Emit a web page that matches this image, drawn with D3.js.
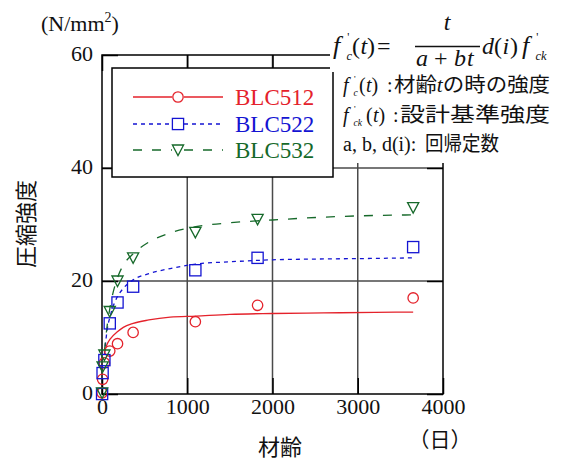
<!DOCTYPE html>
<html>
<head>
<meta charset="utf-8">
<script src="https://cdn.jsdelivr.net/npm/d3@7"></script>
<style>
  html, body { margin: 0; padding: 0; background: #fff; }
  svg { display: block; }
</style>
</head>
<body>
<svg id="chart" width="566" height="461"></svg>
<script>
// Measured ages (days) and compressive strengths (N/mm2)
const ages = [1, 7, 28, 91, 182, 365, 1095, 1825, 3650];
const blc512 = [0.2, 2.6, 5.5, 7.6, 8.9, 10.9, 12.8, 15.7, 17.0];
const blc522 = [0.0, 3.7, 6.0, 12.5, 16.2, 19.0, 21.9, 24.1, 26.0];
const blc532 = [0.2, 4.8, 6.9, 14.6, 20.0, 24.1, 28.6, 30.9, 33.0];

// Regression curves f'c(t) = t/(a+bt) d(i) f'ck, sampled along the age axis
const fitAges = [28, 60, 100, 180, 250, 365, 550, 800, 1100, 1500, 2000, 2600, 3200, 3650];
const fit512 = [7.4, 8.8, 9.8, 11.0, 11.8, 12.5, 13.1, 13.6, 13.8, 14.1, 14.25, 14.35, 14.45, 14.5];
const fit522 = [7.0, 11.3, 14.0, 17.2, 18.7, 20.2, 21.3, 22.2, 23.0, 23.4, 23.75, 23.9, 24.0, 24.1];
const fit532 = [7.5, 12.0, 15.8, 20.5, 22.8, 24.8, 26.9, 28.5, 29.6, 30.3, 30.8, 31.3, 31.6, 31.7];

const seriesNames = ["BLC512", "BLC522", "BLC532"];
const xTicks = [0, 1000, 2000, 3000, 4000];
const yTicks = [0, 20, 40, 60];
const xGrid = [1000, 2000, 3000];
const yGrid = [20, 40];

const SERIF = '"Liberation Serif", "Times New Roman", serif';
const JP = '"Noto Sans CJK JP", "Noto Sans", sans-serif';

const colors = { BLC512: "#e4222b", BLC522: "#1414d2", BLC532: "#16692a" };
const dashes = { BLC512: null, BLC522: "4,4", BLC532: "9,10" };
const shapes = { BLC512: "circle", BLC522: "square", BLC532: "triangle" };

const series = [
  { name: "BLC512", values: blc512, fit: fit512 },
  { name: "BLC522", values: blc522, fit: fit522 },
  { name: "BLC532", values: blc532, fit: fit532 }
];

const svg = d3.select("#chart");
const x = d3.scaleLinear().domain([0, 4000]).range([102, 443]);
const y = d3.scaleLinear().domain([0, 60]).range([394, 55]);
const [x0, x1] = x.range();
const [y0, y1] = y.range();

// grid
const grid = svg.append("g").attr("stroke", "#4a4a4a").attr("stroke-width", 1.5);
grid.selectAll("line.v").data(xGrid).join("line")
  .attr("x1", d => x(d)).attr("x2", d => x(d)).attr("y1", y1).attr("y2", y0);
grid.selectAll("line.h").data(yGrid).join("line")
  .attr("x1", x0).attr("x2", x1).attr("y1", d => y(d)).attr("y2", d => y(d));

// axes with inward ticks
function styleAxis(g) {
  g.attr("font-family", SERIF).attr("font-size", 22);
  g.select(".domain").remove();
  g.selectAll(".tick line").attr("stroke", "#000").attr("stroke-width", 1.5);
  g.selectAll(".tick text").attr("font-family", SERIF).attr("font-size", 22).attr("fill", "#111");
}
svg.append("g").attr("transform", `translate(0,${y0})`)
  .call(d3.axisBottom(x).tickValues(xTicks).tickFormat(d3.format("d")).tickSizeInner(-16).tickSizeOuter(0).tickPadding(4))
  .call(styleAxis);
svg.append("g").attr("transform", `translate(${x0},0)`)
  .call(d3.axisLeft(y).tickValues(yTicks).tickFormat(d3.format("d")).tickSizeInner(-16).tickSizeOuter(0).tickPadding(9))
  .call(styleAxis)
  .call(g => g.selectAll(".tick text").attr("dy", "0.24em"));
svg.append("g").attr("transform", `translate(0,${y1})`)
  .call(d3.axisTop(x).tickValues(xTicks).tickFormat("").tickSizeInner(-16).tickSizeOuter(0))
  .call(styleAxis);
svg.append("g").attr("transform", `translate(${x1},0)`)
  .call(d3.axisRight(y).tickValues(yTicks).tickFormat("").tickSizeInner(-16).tickSizeOuter(0))
  .call(styleAxis);

// frame
svg.append("rect").attr("x", x0).attr("y", y1).attr("width", x1 - x0).attr("height", y0 - y1)
  .attr("fill", "none").attr("stroke", "#000").attr("stroke-width", 1.5);

// fitted curves
const line = d3.line().x(d => x(d[0])).y(d => y(d[1])).curve(d3.curveMonotoneX);
svg.append("g").selectAll("path").data(series).join("path")
  .attr("d", s => line(fitAges.map((t, i) => [t, s.fit[i]])))
  .attr("fill", "none")
  .attr("stroke", s => colors[s.name])
  .attr("stroke-width", 1.3)
  .attr("stroke-dasharray", s => dashes[s.name]);

// markers
function marker(sel, shape, color) {
  if (shape === "circle") {
    sel.append("circle").attr("r", 5.2);
  } else if (shape === "square") {
    sel.append("rect").attr("x", -5.6).attr("y", -5.6).attr("width", 11.2).attr("height", 11.2);
  } else {
    sel.append("path").attr("d", "M-5.6,-5L5.6,-5L0,5.5Z");
  }
  sel.selectAll("*").attr("fill", "none").attr("stroke", color).attr("stroke-width", 1.3);
}
series.forEach(s => {
  const g = svg.append("g");
  ages.forEach((t, i) => {
    const m = g.append("g").attr("transform", `translate(${x(t)},${y(s.values[i])})`);
    marker(m, shapes[s.name], colors[s.name]);
  });
});

// legend
const legend = svg.append("g");
legend.append("rect").attr("x", 112).attr("y", 68).attr("width", 221).attr("height", 109)
  .attr("fill", "#fff").attr("stroke", "#000").attr("stroke-width", 1.5);
const legendRows = [97, 124, 150];
seriesNames.forEach((name, i) => {
  const ly = legendRows[i];
  const g = legend.append("g");
  [[133, 172], [184, 223]].forEach(([a, b]) => {
    g.append("line").attr("x1", a).attr("x2", b).attr("y1", ly).attr("y2", ly)
      .attr("stroke", colors[name]).attr("stroke-width", 1.3)
      .attr("stroke-dasharray", dashes[name]);
  });
  const m = g.append("g").attr("transform", `translate(178,${ly})`);
  marker(m, shapes[name], colors[name]);
  g.append("text").attr("font-family", SERIF).attr("x", 235).attr("y", ly + 8)
    .attr("font-size", 23).attr("fill", colors[name]).text(name);
});

// axis titles
const unit = svg.append("text").attr("font-family", SERIF).attr("x", 41).attr("y", 31)
  .attr("font-size", 22).attr("fill", "#111");
unit.append("tspan").text("(N/mm");
unit.append("tspan").attr("font-size", 14).attr("dy", -9).text("2");
unit.append("tspan").attr("dy", 9).text(")");

svg.append("text").attr("font-family", JP)
  .attr("transform", "translate(34,224) rotate(-90)")
  .attr("text-anchor", "middle").attr("font-size", 22).attr("fill", "#111")
  .text("圧縮強度");

svg.append("text").attr("font-family", JP).attr("x", 280).attr("y", 455)
  .attr("text-anchor", "middle").attr("font-size", 22).attr("fill", "#111").text("材齢");
svg.append("text").attr("font-family", JP).attr("x", 440).attr("y", 447)
  .attr("text-anchor", "middle").attr("font-size", 21).attr("fill", "#111").text("（日）");

// formula panel
const fp = svg.append("g").attr("font-family", SERIF).attr("fill", "#111");
fp.append("rect").attr("x", 330).attr("y", 0).attr("width", 236).attr("height", 72).attr("fill", "#fff");
fp.append("rect").attr("x", 336).attr("y", 72).attr("width", 230).attr("height", 91).attr("fill", "#fff");

function put(txt, xPos, base, size, italic, anchor) {
  return fp.append("text").attr("x", xPos).attr("y", base).attr("font-size", size)
    .attr("font-family", SERIF)
    .attr("font-style", italic ? "italic" : "normal")
    .attr("text-anchor", anchor || "start").text(txt);
}
// f with a prime and a subscript
function fPrime(xPos, base, size, sub) {
  put("f", xPos, base, size, true);
  put("'", xPos + size * 0.55, base - size * 0.5, size * 0.45, false);
  put(sub, xPos + size * 0.52, base + size * 0.22, size * 0.48, true);
}

// main equation
fPrime(333, 54, 26, "c");
put("(", 352, 54, 24, false);
put("t", 360.5, 54, 24, true);
put(")", 367, 54, 24, false);
put("=", 377, 54, 24, false);
put("t", 447, 30, 24, true, "middle");
fp.append("line").attr("x1", 415).attr("x2", 480).attr("y1", 46.5).attr("y2", 46.5)
  .attr("stroke", "#111").attr("stroke-width", 1.3);
put("a", 416, 66, 24, true);
put("+", 434, 66, 24, false);
put("b", 454, 66, 24, true);
put("t", 467, 66, 24, true);
put("d", 482, 54, 24, true);
put("(", 494, 54, 24, false);
put("i", 502.5, 54, 24, true);
put(")", 510, 54, 24, false);
fPrime(522, 54, 26, "ck");

// definitions
function defLine(base, sub, parenX, colonX) {
  fPrime(343, base, 20, sub);
  put("(", parenX, base, 20, false);
  put("t", parenX + 7, base, 20, true);
  put(")", parenX + 12.5, base, 20, false);
  put(":", colonX, base, 20, false);
}
defLine(92, "c", 359, 387);
const d1 = fp.append("text").attr("x", 394).attr("y", 92).attr("font-size", 20)
  .attr("font-family", JP).attr("textLength", 156).attr("lengthAdjust", "spacingAndGlyphs");
d1.append("tspan").text("材齢");
d1.append("tspan").attr("font-family", SERIF).attr("font-style", "italic").text("t");
d1.append("tspan").text("の時の強度");

defLine(122, "ck", 366, 393);
fp.append("text").attr("x", 400).attr("y", 122).attr("font-size", 20)
  .attr("font-family", JP).attr("textLength", 150).attr("lengthAdjust", "spacingAndGlyphs")
  .text("設計基準強度");

put("a, b, d(i):", 343, 151, 20, false);
fp.append("text").attr("x", 425).attr("y", 151).attr("font-size", 20)
  .attr("font-family", JP).attr("textLength", 74).attr("lengthAdjust", "spacingAndGlyphs")
  .text("回帰定数");
</script>
</body>
</html>
